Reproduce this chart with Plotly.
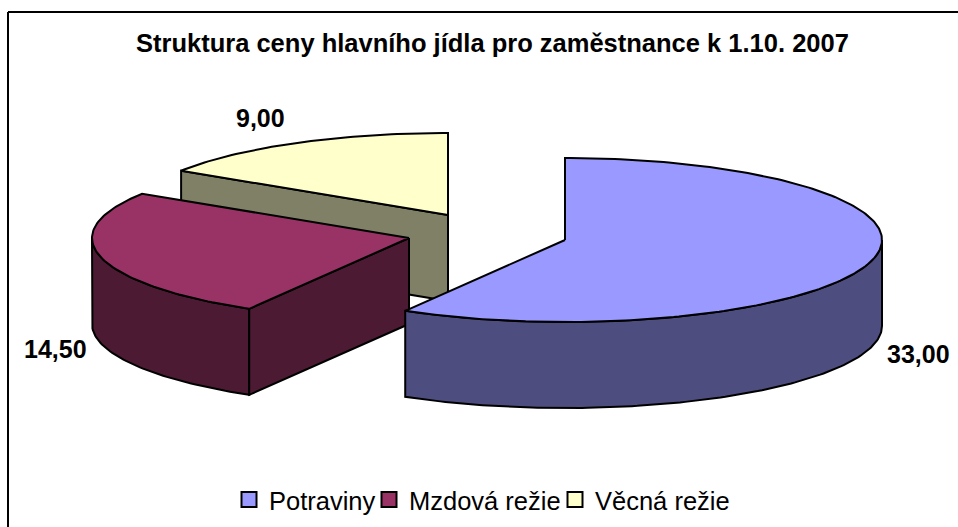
import numpy as np
import plotly.graph_objects as go

# Data
categories = ["Potraviny", "Mzdová režie", "Věcná režie"]
values = [33.00, 14.50, 9.00]
value_labels = ["33,00", "14,50", "9,00"]
title_text = "Struktura ceny hlavního jídla pro zaměstnance k 1.10. 2007"

# Styles
top_colors = ["#9999FF", "#993366", "#FFFFCC"]
side_colors = ["#4D4D80", "#4D1A33", "#808066"]
FONT = "Liberation Sans, Arial, sans-serif"

# Projection geometry (exploded oblique pie)
centers = [(565, 240), (409, 238), (448, 215)]
RX, RY, DEPTH = 317, 82, 86
LINE = dict(color="black", width=2)


def point(c, t, drop=0.0):
    t = np.asarray(t, dtype=float)
    return c[0] + RX * np.sin(t), c[1] - RY * np.cos(t) + drop


def arc(start, end):
    n = max(2, int(abs(end - start) / np.radians(1)))
    return np.linspace(start, end, n)


# slice angles, clockwise from straight up
edges = np.concatenate([[0], np.cumsum(values)]) / sum(values) * 2 * np.pi

fig = go.Figure()


def poly(xs, ys, color):
    xs = np.asarray(xs, dtype=float)
    ys = np.asarray(ys, dtype=float)
    fig.add_trace(go.Scatter(
        x=np.append(xs, xs[0]), y=np.append(ys, ys[0]), mode="lines",
        fill="toself", fillcolor=color, line=LINE, hoverinfo="skip", showlegend=False,
    ))


def top_face(i):
    c = centers[i]
    ax, ay = point(c, arc(edges[i], edges[i + 1]))
    poly(np.r_[c[0], ax], np.r_[c[1], ay], top_colors[i])


def radial_face(i, t):
    c = centers[i]
    ex, ey = point(c, t)
    poly([c[0], ex, ex, c[0]], [c[1], ey, ey + DEPTH, c[1] + DEPTH], side_colors[i])


def outer_wall(i, start, end):
    c = centers[i]
    ax, ay = point(c, arc(start, end))
    bx, by = point(c, arc(end, start), DEPTH)
    poly(np.r_[ax, bx], np.r_[ay, by], side_colors[i])


# back to front
radial_face(2, edges[2])
top_face(2)
outer_wall(1, edges[1], 1.5 * np.pi)
radial_face(1, edges[1])
top_face(1)
outer_wall(0, 0.5 * np.pi, edges[1])
top_face(0)

# legend entries, each in its own legend so it can sit where the reference has it
legend_x = [229, 369, 555]
for i, name in enumerate(categories):
    key = "legend" if i == 0 else f"legend{i + 1}"
    fig.add_trace(go.Scatter(
        x=[None], y=[None], mode="markers", name=name, legend=key,
        marker=dict(symbol="square", size=15, color=top_colors[i], line=dict(color="black", width=2)),
    ))
    fig.update_layout({key: dict(
        x=legend_x[i] / 958, y=1 - 500 / 527, xanchor="left", yanchor="middle",
        orientation="h", bgcolor="rgba(0,0,0,0)", borderwidth=0,
        font=dict(family=FONT, size=25.5, color="black"),
    )})

label_pos = [(918, 354), (55, 349), (260, 118)]
for (lx, ly), txt in zip(label_pos, value_labels):
    fig.add_annotation(x=lx, y=ly, text=f"<b>{txt}</b>", showarrow=False,
                       font=dict(family=FONT, size=25, color="black"))

fig.add_annotation(x=492, y=43, text=f"<b>{title_text}</b>", showarrow=False,
                   font=dict(family=FONT, size=25.5, color="black"))

fig.add_shape(type="line", x0=8, y0=12, x1=958, y1=12, line=dict(color="black", width=2))
fig.add_shape(type="line", x0=8, y0=12, x1=8, y1=527, line=dict(color="black", width=2))

fig.update_layout(
    width=958, height=527, margin=dict(l=0, r=0, t=0, b=0),
    paper_bgcolor="white", plot_bgcolor="white", showlegend=True,
    xaxis=dict(range=[0, 958], visible=False, fixedrange=True),
    yaxis=dict(range=[527, 0], visible=False, fixedrange=True),
)

fig.write_html("out.html", config=dict(displayModeBar=False),
               post_script="document.body.style.margin='0';document.documentElement.style.overflow='hidden';")
